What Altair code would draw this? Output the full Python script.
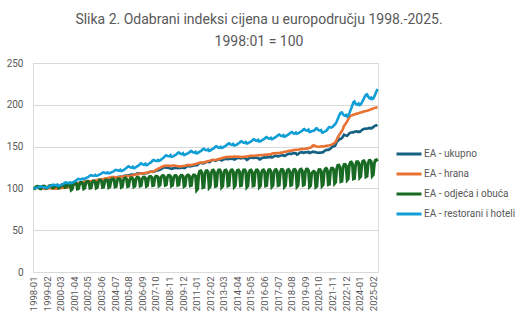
import altair as alt
import pandas as pd

# ---------------- data ----------------
series_names = ["EA - ukupno", "EA - hrana", "EA - odjeća i obuća", "EA - restorani i hoteli"]
series_colors = ["#156082", "#E97132", "#196B24", "#0F9ED5"]

tick_labels = ["1998-01", "1999-02", "2000-03", "2001-04", "2002-05", "2003-06", "2004-07",
               "2005-08", "2006-09", "2007-10", "2008-11", "2009-12", "2011-01", "2012-02",
               "2013-03", "2014-04", "2015-05", "2016-06", "2017-07", "2018-08", "2019-09",
               "2020-10", "2021-11", "2022-12", "2024-01", "2025-02"]

ukupno = [
    [100.0, 100.2, 100.4, 100.7, 100.8, 100.9, 100.8, 100.8, 100.7, 100.7, 100.6, 100.8],
    [100.6, 100.9, 101.2, 101.6, 101.6, 101.7, 101.7, 101.8, 101.9, 102.0, 102.1, 102.5],
    [102.4, 102.8, 103.1, 103.2, 103.3, 103.7, 103.8, 103.8, 104.3, 104.4, 104.7, 104.9],
    [104.6, 105.0, 105.5, 106.1, 106.6, 106.7, 106.5, 106.5, 106.7, 106.8, 106.8, 107.1],
    [107.3, 107.6, 108.1, 108.5, 108.7, 108.6, 108.5, 108.6, 108.8, 109.1, 109.0, 109.4],
    [109.3, 109.8, 110.3, 110.4, 110.3, 110.5, 110.4, 110.6, 111.0, 111.1, 111.1, 111.5],
    [111.2, 111.6, 112.2, 112.8, 113.1, 113.1, 112.9, 113.1, 113.4, 113.8, 113.7, 114.1],
    [113.6, 114.0, 114.6, 115.1, 115.3, 115.4, 115.3, 115.6, 116.1, 116.4, 116.2, 116.7],
    [116.2, 116.6, 117.1, 117.8, 118.1, 118.1, 117.9, 118.1, 118.0, 118.0, 118.0, 118.4],
    [118.1, 118.5, 119.1, 119.7, 119.9, 120.0, 119.8, 119.9, 120.4, 121.0, 121.6, 122.1],
    [121.8, 122.3, 123.4, 123.8, 124.6, 125.1, 124.9, 124.7, 124.8, 124.8, 124.1, 123.8],
    [123.3, 123.8, 124.1, 124.4, 124.4, 124.7, 124.1, 124.4, 124.4, 124.5, 124.6, 125.0],
    [124.3, 124.7, 125.8, 126.4, 126.6, 126.6, 126.4, 126.7, 126.9, 127.4, 127.5, 128.2],
    [127.6, 128.1, 129.6, 130.4, 130.3, 130.3, 129.8, 130.1, 130.9, 131.4, 131.5, 131.9],
    [131.2, 131.8, 133.4, 134.0, 133.9, 133.7, 133.1, 133.6, 134.4, 134.8, 134.5, 134.8],
    [133.5, 134.0, 135.0, 134.9, 135.1, 135.4, 134.9, 135.1, 135.7, 135.6, 135.2, 135.8],
    [134.5, 134.9, 135.8, 136.4, 136.3, 136.3, 135.8, 136.0, 136.4, 136.3, 136.0, 135.9],
    [134.1, 134.7, 136.1, 136.4, 136.8, 136.9, 136.3, 136.3, 136.6, 136.7, 136.5, 136.4],
    [134.7, 134.9, 136.2, 136.5, 137.0, 137.3, 136.8, 137.0, 137.3, 137.6, 137.4, 138.2],
    [137.0, 137.4, 138.4, 138.9, 138.8, 138.9, 138.2, 138.6, 139.2, 139.3, 139.4, 139.8],
    [138.7, 139.1, 140.3, 140.8, 141.4, 141.6, 141.1, 141.4, 142.1, 142.4, 141.9, 141.9],
    [140.4, 140.9, 142.0, 143.0, 143.1, 143.4, 142.6, 142.8, 143.3, 143.5, 143.1, 143.8],
    [142.4, 142.7, 143.4, 143.9, 143.5, 143.8, 143.1, 142.8, 142.7, 142.9, 142.4, 142.9],
    [143.1, 143.3, 144.5, 145.4, 145.8, 146.2, 146.1, 146.8, 147.4, 149.0, 149.8, 150.3],
    [150.6, 152.2, 155.8, 156.7, 158.1, 159.4, 159.3, 160.2, 162.0, 164.3, 163.7, 163.2],
    [162.9, 164.2, 165.7, 166.7, 166.8, 167.2, 166.9, 167.7, 168.0, 168.2, 167.4, 168.1],
    [167.6, 168.7, 169.6, 170.6, 171.0, 171.5, 171.1, 171.6, 171.6, 172.2, 171.6, 172.4],
    [172.2, 173.3, 174.3, 175.2, 175.3, 175.9],
]

hrana = [
    [100.0, 100.3, 100.3, 100.6, 100.9, 101.0, 100.7, 100.4, 100.1, 99.9, 99.8, 100.0],
    [100.2, 100.3, 100.2, 100.3, 100.4, 100.1, 99.9, 99.7, 99.5, 99.5, 99.6, 100.0],
    [100.2, 100.3, 100.3, 100.5, 100.6, 100.9, 100.9, 100.9, 101.1, 101.3, 101.7, 102.0],
    [102.6, 103.1, 103.8, 104.5, 105.5, 105.9, 106.0, 106.1, 106.2, 106.5, 106.5, 106.9],
    [108.1, 108.3, 108.4, 108.6, 108.7, 108.5, 108.4, 108.5, 108.5, 108.8, 108.9, 109.3],
    [109.7, 109.9, 110.2, 110.3, 110.6, 110.8, 111.0, 111.4, 111.8, 112.0, 112.1, 112.4],
    [112.8, 113.0, 113.1, 113.5, 113.7, 113.6, 113.3, 113.2, 113.2, 113.4, 113.4, 113.6],
    [113.9, 114.0, 114.3, 114.5, 114.7, 114.8, 114.8, 114.8, 114.8, 115.1, 115.3, 115.6],
    [116.0, 116.3, 116.6, 116.8, 117.2, 117.4, 117.5, 117.7, 117.8, 118.1, 118.2, 118.5],
    [118.8, 119.1, 119.4, 119.7, 119.9, 120.0, 120.1, 120.4, 121.1, 122.0, 122.7, 123.4],
    [124.1, 124.6, 125.4, 125.8, 126.5, 126.9, 127.2, 127.1, 127.1, 127.2, 126.9, 126.9],
    [127.2, 127.4, 127.3, 127.2, 127.1, 126.8, 126.6, 126.5, 126.3, 126.4, 126.5, 126.7],
    [126.9, 127.1, 127.5, 127.8, 127.9, 127.9, 127.8, 127.9, 128.2, 128.6, 128.9, 129.2],
    [129.6, 130.0, 130.5, 130.7, 130.9, 131.0, 130.8, 131.0, 131.4, 131.8, 132.0, 132.4],
    [132.8, 133.2, 133.7, 133.9, 133.9, 134.0, 134.0, 134.4, 134.7, 135.1, 135.3, 135.7],
    [136.0, 136.4, 136.8, 137.0, 137.5, 137.6, 137.5, 137.7, 137.7, 137.7, 137.6, 137.8],
    [138.0, 138.0, 137.9, 138.0, 137.9, 137.8, 137.5, 137.4, 137.6, 137.8, 137.8, 138.0],
    [138.1, 138.4, 138.6, 138.7, 138.9, 139.0, 139.0, 138.8, 139.1, 139.3, 139.4, 139.6],
    [139.7, 139.8, 140.0, 140.0, 140.0, 140.2, 140.3, 140.4, 140.4, 140.5, 140.8, 141.1],
    [141.6, 142.0, 141.9, 142.1, 142.3, 142.2, 142.3, 142.3, 142.5, 142.8, 143.0, 143.3],
    [143.7, 143.9, 144.1, 144.5, 144.8, 145.1, 145.3, 145.2, 145.5, 145.9, 146.0, 146.1],
    [146.2, 146.3, 146.5, 146.9, 147.2, 147.3, 147.2, 147.1, 147.4, 147.6, 147.8, 148.2],
    [148.7, 149.0, 149.4, 151.1, 151.6, 150.9, 150.5, 150.1, 149.9, 149.9, 150.0, 150.2],
    [150.3, 150.2, 150.5, 150.7, 150.9, 151.1, 151.4, 151.6, 151.9, 152.4, 153.0, 153.6],
    [154.6, 155.8, 158.3, 161.0, 163.2, 165.1, 167.0, 168.7, 171.3, 174.7, 176.4, 178.1],
    [180.3, 182.6, 185.0, 186.4, 187.2, 187.5, 188.0, 188.6, 188.8, 189.5, 189.5, 190.0],
    [190.6, 190.9, 191.2, 191.6, 192.0, 192.3, 192.6, 193.0, 193.3, 193.8, 194.2, 194.6],
    [195.2, 195.6, 196.0, 196.5, 196.8, 197.2],
]

odjeca = [
    [100.0, 99.8, 101.5, 102.3, 102.5, 102.0, 99.8, 99.6, 101.8, 102.6, 102.7, 102.2],
    [100.0, 100.5, 101.7, 103.2, 103.5, 102.8, 100.6, 100.9, 101.8, 103.5, 103.6, 103.0],
    [100.5, 101.1, 102.4, 104.2, 104.5, 103.8, 101.2, 101.6, 102.5, 104.5, 104.6, 104.0],
    [98.0, 99.0, 104.5, 106.7, 107.0, 105.8, 99.3, 99.7, 104.8, 107.0, 107.1, 106.0],
    [99.5, 100.3, 106.0, 108.2, 108.5, 107.3, 100.3, 100.7, 106.3, 108.5, 108.6, 107.5],
    [100.5, 101.3, 107.5, 109.7, 110.0, 108.8, 101.3, 101.7, 107.8, 110.0, 110.1, 109.0],
    [101.0, 101.8, 109.0, 111.2, 111.5, 110.3, 101.8, 102.2, 109.3, 111.5, 111.6, 110.5],
    [101.5, 102.3, 110.0, 112.2, 112.5, 111.3, 102.3, 102.7, 110.3, 112.5, 112.6, 111.5],
    [102.0, 102.8, 111.0, 113.2, 113.5, 112.3, 102.8, 103.2, 111.3, 113.5, 113.6, 112.5],
    [102.5, 103.3, 112.0, 114.2, 114.5, 113.3, 103.3, 103.7, 112.3, 114.5, 114.6, 113.5],
    [103.0, 103.8, 113.0, 115.2, 115.5, 114.3, 103.8, 104.2, 113.3, 115.5, 115.6, 114.5],
    [103.0, 103.8, 113.0, 115.2, 115.5, 114.3, 103.8, 104.2, 113.3, 115.5, 115.6, 114.5],
    [102.5, 103.3, 113.5, 115.7, 116.0, 114.8, 103.3, 103.7, 113.8, 116.0, 116.1, 115.0],
    [98.0, 99.5, 117.0, 120.5, 121.0, 119.0, 101.0, 101.5, 117.5, 121.0, 121.2, 119.5],
    [101.0, 102.5, 118.0, 121.5, 122.0, 120.0, 102.5, 103.0, 118.5, 122.0, 122.2, 120.5],
    [101.5, 103.0, 118.0, 121.5, 122.0, 120.0, 103.0, 103.5, 118.5, 122.0, 122.2, 120.5],
    [101.8, 103.2, 118.2, 121.6, 122.0, 120.1, 103.2, 103.6, 118.6, 122.1, 122.3, 120.6],
    [101.6, 103.1, 118.1, 121.5, 121.9, 120.0, 103.0, 103.5, 118.5, 122.0, 122.2, 120.5],
    [101.7, 103.1, 118.2, 121.6, 122.1, 120.2, 103.1, 103.6, 118.7, 122.2, 122.4, 120.7],
    [102.0, 103.5, 118.6, 122.0, 122.5, 120.6, 103.6, 104.0, 119.0, 122.5, 122.7, 121.0],
    [102.0, 103.5, 118.6, 122.1, 122.6, 120.7, 103.6, 104.1, 119.1, 122.6, 122.8, 121.1],
    [102.2, 103.7, 119.0, 122.5, 123.0, 121.1, 103.8, 104.3, 119.5, 123.0, 123.2, 121.5],
    [102.0, 103.3, 118.0, 119.5, 120.5, 119.8, 101.5, 102.5, 118.5, 122.5, 122.6, 121.0],
    [103.0, 104.5, 119.5, 123.5, 124.0, 122.0, 104.5, 105.0, 120.5, 124.0, 124.3, 122.8],
    [106.0, 107.5, 123.5, 127.5, 128.0, 126.0, 108.0, 108.5, 124.5, 128.5, 128.7, 127.0],
    [110.0, 111.5, 127.0, 131.0, 131.5, 129.5, 111.5, 112.0, 127.5, 131.8, 132.0, 130.5],
    [113.0, 114.5, 128.5, 132.5, 133.0, 131.0, 114.0, 114.8, 129.0, 133.2, 133.4, 132.0],
    [115.0, 116.5, 130.0, 133.8, 134.2, 132.3],
]

restorani = [
    [100.0, 100.2, 100.5, 100.8, 101.0, 101.5, 102.2, 102.4, 101.7, 101.4, 101.3, 101.5],
    [100.7, 101.0, 101.6, 102.2, 102.6, 103.3, 104.2, 104.6, 104.0, 103.7, 103.7, 104.5],
    [103.0, 103.4, 103.9, 104.6, 105.1, 105.8, 106.8, 107.2, 106.6, 106.3, 106.3, 107.2],
    [106.3, 106.8, 107.5, 108.2, 108.9, 109.7, 110.8, 111.4, 110.9, 110.8, 111.0, 111.9],
    [111.1, 111.5, 112.2, 112.9, 113.5, 114.2, 115.3, 115.8, 115.3, 115.1, 115.2, 116.1],
    [115.0, 115.4, 115.9, 116.6, 117.1, 117.8, 118.8, 119.2, 118.6, 118.3, 118.3, 119.2],
    [118.0, 118.4, 118.9, 119.6, 120.1, 120.8, 121.8, 122.2, 121.6, 121.3, 121.3, 122.2],
    [120.7, 121.1, 121.9, 122.8, 123.5, 124.5, 125.9, 126.5, 125.4, 124.9, 124.8, 126.0],
    [124.2, 124.6, 125.4, 126.3, 127.0, 128.0, 129.4, 130.0, 128.9, 128.4, 128.3, 129.5],
    [127.7, 128.2, 129.1, 130.1, 130.9, 131.9, 133.5, 134.1, 133.2, 132.7, 132.7, 134.0],
    [132.9, 133.5, 134.4, 135.5, 136.3, 137.4, 139.0, 139.7, 138.8, 138.4, 138.4, 139.7],
    [137.7, 138.0, 138.7, 139.5, 140.2, 141.0, 142.4, 142.9, 141.7, 141.1, 140.9, 142.0],
    [139.9, 140.2, 140.9, 141.6, 142.2, 143.0, 144.4, 144.8, 143.6, 142.9, 142.7, 143.7],
    [141.9, 142.3, 143.1, 143.9, 144.6, 145.5, 146.9, 147.4, 146.3, 145.7, 145.6, 146.7],
    [144.9, 145.3, 146.1, 146.9, 147.6, 148.5, 149.9, 150.4, 149.3, 148.7, 148.6, 149.7],
    [148.4, 148.8, 149.6, 150.4, 151.1, 152.0, 153.4, 153.9, 152.8, 152.2, 152.1, 153.2],
    [151.2, 151.5, 152.2, 153.0, 153.7, 154.5, 155.9, 156.4, 155.2, 154.6, 154.4, 155.5],
    [153.7, 154.0, 154.7, 155.5, 156.2, 157.0, 158.4, 158.9, 157.7, 157.1, 156.9, 158.0],
    [156.2, 156.5, 157.2, 158.0, 158.7, 159.5, 160.9, 161.4, 160.2, 159.6, 159.4, 160.5],
    [158.9, 159.3, 160.1, 160.9, 161.6, 162.5, 163.9, 164.4, 163.3, 162.7, 162.6, 163.7],
    [161.9, 162.3, 163.1, 163.9, 164.6, 165.5, 166.9, 167.4, 166.3, 165.7, 165.6, 166.7],
    [165.4, 165.8, 166.6, 167.4, 168.1, 169.0, 170.4, 170.9, 169.8, 169.2, 169.1, 170.2],
    [167.6, 167.9, 168.4, 168.8, 169.0, 169.8, 171.4, 171.8, 170.2, 169.6, 169.2, 169.8],
    [166.8, 167.0, 167.6, 168.2, 169.0, 170.2, 172.5, 173.5, 172.8, 172.9, 173.4, 175.0],
    [176.0, 177.5, 180.0, 183.0, 186.0, 189.0, 190.5, 190.8, 188.5, 187.5, 187.0, 188.0],
    [186.0, 187.0, 189.5, 193.0, 196.0, 199.5, 203.0, 204.0, 201.5, 200.5, 200.0, 201.5],
    [199.8, 200.5, 202.5, 205.0, 207.5, 210.0, 212.0, 212.5, 210.0, 208.5, 207.5, 208.5],
    [206.8, 207.5, 210.0, 213.0, 216.0, 219.0],
]

# ---------------- table ----------------
months = [f"{y}-{m:02d}" for y in range(1998, 2026) for m in range(1, 13)]
rows = []
for name, table in zip(series_names, [ukupno, hrana, odjeca, restorani]):
    flat = [v for row in table for v in row]
    for mo, v in zip(months, flat):
        rows.append({"month": mo, "series": name, "value": v})
df = pd.DataFrame(rows)
months_used = months[: len([v for row in ukupno for v in row])]

FONT = "Roboto"
GREY = "#595959"
stroke_widths = [2.6, 2.6, 3.0, 2.6]

color_scale = alt.Scale(domain=series_names, range=series_colors)

x_enc = alt.X(
    "month:O",
    scale=alt.Scale(type="point", padding=0.5, domain=months_used),
    axis=alt.Axis(
        values=tick_labels, labelAngle=270, labelFontSize=9.5, labelColor=GREY,
        labelFont=FONT, ticks=False, domain=True, domainColor="#d9d9d9",
        grid=False, title=None, labelPadding=4, labelOverlap=False,
    ),
)
y_enc = alt.Y(
    "value:Q",
    scale=alt.Scale(domain=[0, 250], nice=False, zero=True),
    axis=alt.Axis(
        values=[0, 50, 100, 150, 200, 250], grid=True, gridColor="#d9d9d9",
        domain=False, ticks=False, labelFontSize=10, labelColor=GREY,
        labelFont=FONT, labelPadding=10, title=None,
    ),
)
c_enc = alt.Color(
    "series:N", scale=color_scale, sort=series_names,
    legend=alt.Legend(
        title=None, orient="none", legendX=362, legendY=84,
        symbolType="stroke", symbolSize=625, symbolStrokeWidth=3,
        labelFont=FONT, labelFontSize=10, labelColor=GREY, labelOffset=1,
        clipHeight=14, rowPadding=6,
    ),
)

layers = [
    alt.Chart(df)
    .transform_filter(alt.datum.series == name)
    .mark_line(strokeWidth=sw)
    .encode(x=x_enc, y=y_enc, color=c_enc)
    for name, sw in zip(series_names, stroke_widths)
]

chart = (
    alt.layer(*layers)
    .properties(
        width=345,
        height=209,
        title=alt.Title(
            ["Slika 2. Odabrani indeksi cijena u europodručju 1998.-2025.", "1998:01 = 100"],
            font=FONT, fontSize=14, fontWeight="normal", color=GREY,
            anchor="middle", dx=53.5, offset=9, lineHeight=22,
        ),
        autosize=alt.AutoSizeParams(type="none"),
        padding={"left": 33, "top": 63, "right": 140, "bottom": 50},
    )
    .configure_view(stroke=None)
    .configure(background="white")
)

chart.save("out.html", embed_options={"renderer": "svg", "actions": False})
